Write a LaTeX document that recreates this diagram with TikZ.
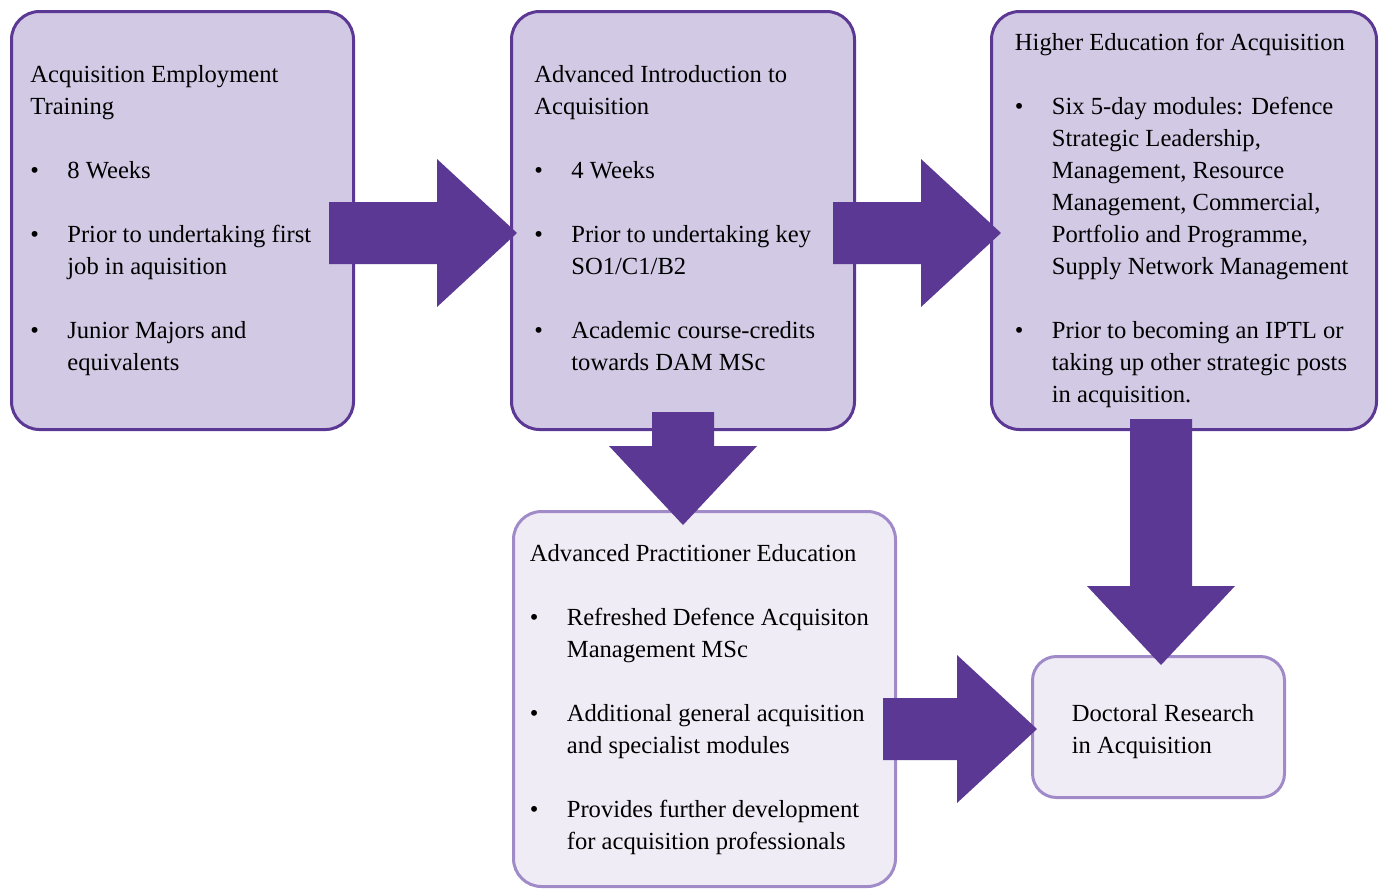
\documentclass[tikz,border=0pt]{standalone}
\usepackage{fontspec}
\setmainfont{Liberation Serif}
\usetikzlibrary{calc,positioning}

\definecolor{darkplum}{HTML}{5B3893}
\definecolor{stagefill}{HTML}{D2C9E4}
\definecolor{lightfill}{HTML}{EFECF6}
\definecolor{lightedge}{HTML}{A08BC8}

\tikzset{
  stage/.style={draw=darkplum, fill=stagefill, line width=1.5pt, rounded corners=14pt},
  substage/.style={draw=lightedge, fill=lightfill, line width=1.5pt, rounded corners=14pt},
  stagetext/.style={align=left, anchor=west, inner sep=0pt, font=\fontsize{12.3pt}{16pt}\selectfont},
  fatarrow/.style={fill=darkplum}
}

% bullet and hanging indent for the course lists
\newcommand{\bul}{\makebox[18.5pt][l]{\textbullet}}
\newcommand{\ind}{\hspace*{18.5pt}}

% thick block arrows: tail, tip
\newcommand{\rightarr}[2]{\fill[fatarrow] ($(#1)+(0,-31)$) -- ($(#2)+(-80,-31)$) -- ($(#2)+(-80,-74)$) -- (#2) -- ($(#2)+(-80,74)$) -- ($(#2)+(-80,31)$) -- ($(#1)+(0,31)$) -- cycle;}
\newcommand{\downarr}[2]{\fill[fatarrow] ($(#1)+(-31,0)$) -- ($(#2)+(-31,-79)$) -- ($(#2)+(-74,-79)$) -- (#2) -- ($(#2)+(74,-79)$) -- ($(#2)+(31,-79)$) -- ($(#1)+(31,0)$) -- cycle;}

\begin{document}
\begin{tikzpicture}[x=0.5pt, y=-0.5pt]
	\useasboundingbox (0,0) rectangle (1383,891);

	% top row
	\node (aet) [stage, minimum width=171pt, minimum height=209pt] at (182.5,220.5) {};
	\node (aia) [stage, minimum width=171.5pt, minimum height=209pt] at (683,220.5) {};
	\node (hea) [stage, minimum width=192.5pt, minimum height=209pt] at (1184,220.5) {};
	% bottom row
	\node (ape) [substage, minimum width=191pt, minimum height=187.5pt] at (704.5,699) {};
	\node (dra) [substage, rounded corners=12pt, minimum width=126pt, minimum height=70.5pt] at (1158.5,727) {};

	\node (aet-text) [stagetext] at ($(aet.west)+(20,0)$) {Acquisition Employment\\Training\\[16pt]
		\bul 8 Weeks\\[16pt]
		\bul Prior to undertaking first\\\ind job in aquisition\\[16pt]
		\bul Junior Majors and\\\ind equivalents};
	\node (aia-text) [stagetext] at ($(aia.west)+(24,-2)$) {Advanced Introduction to\\Acquisition\\[16pt]
		\bul 4 Weeks\\[16pt]
		\bul Prior to undertaking key\\\ind SO1/C1/B2\\[16pt]
		\bul Academic course-credits\\\ind towards DAM MSc};
	\node (hea-text) [stagetext] at ($(hea.west)+(24.5,0)$) {Higher Education for Acquisition\\[16pt]
		\bul Six 5-day modules: Defence\\\ind Strategic Leadership,\\\ind Management, Resource\\\ind Management, Commercial,\\\ind Portfolio and Programme,\\\ind Supply Network Management\\[16pt]
		\bul Prior to becoming an IPTL or\\\ind taking up other strategic posts\\\ind in acquisition.};
	\node (ape-text) [stagetext] at ($(ape.west)+(17.5,1)$) {Advanced Practitioner Education\\[16pt]
		\bul Refreshed Defence Acquisiton\\\ind Management MSc\\[16pt]
		\bul Additional general acquisition\\\ind and specialist modules\\[16pt]
		\bul Provides further development\\\ind for acquisition professionals};
	\node (dra-text) [stagetext] at ($(dra.west)+(40.5,5)$) {Doctoral Research\\in Acquisition};

	% arrow ends
	\coordinate (aet-out) at (329,233);
	\coordinate (aia-in) at (517,233);
	\coordinate (aia-out) at (833,233);
	\coordinate (hea-in) at (1001,233);
	\coordinate (aia-down) at (683,412);
	\coordinate (ape-in) at (683,525);
	\coordinate (hea-down) at (1161,419);
	\coordinate (dra-top) at (1161,665);
	\coordinate (ape-out) at (883,729);
	\coordinate (dra-in) at (1037,729);

	\rightarr{aet-out}{aia-in}
	\rightarr{aia-out}{hea-in}
	\downarr{aia-down}{ape-in}
	\downarr{hea-down}{dra-top}
	\rightarr{ape-out}{dra-in}
\end{tikzpicture}
\end{document}
